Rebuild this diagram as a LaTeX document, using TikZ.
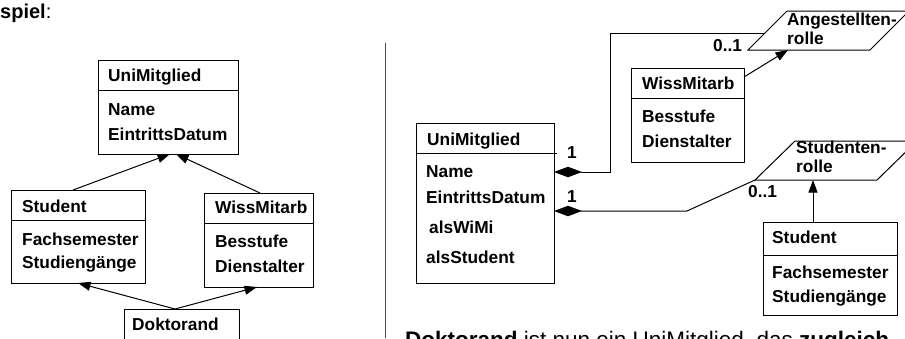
\documentclass[tikz,border=0pt]{standalone}
\usepackage{fontspec}
\setmainfont{Liberation Sans}
\usetikzlibrary{arrows.meta,calc}
\begin{document}
\begin{tikzpicture}[x=1pt,y=-1pt,
  box/.style={draw, line width=1pt, anchor=north west, inner sep=0pt, outer sep=0pt},
  lbl/.style={anchor=base west, inner sep=0pt, font=\fontsize{17.3}{20}\selectfont\bfseries},
  conn/.style={line width=1pt},
  gen/.style={conn, -{Triangle[length=12.5pt,width=9pt]}},
  comp/.style={conn, {Diamond[length=28pt,width=10.5pt]}-}
]
\useasboundingbox (0,0) rectangle (905,338);
\clip (0,0) rectangle (905,338);
\fill[white] (0,0) rectangle (905,338);

% heading
\node[anchor=base west, inner sep=0pt, font=\fontsize{20}{22}\selectfont] (head) at (0,18) {\textbf{spiel}:};

% ---------- left diagram ----------
\node[box, minimum width=140pt, minimum height=94pt] (uniL) at (98,60) {};
\draw[conn] (98,90) -- (239,90);
\node[lbl] (uniLt) at (108,81) {UniMitglied};
\node[lbl] (uniLa) at (108,115) {Name};
\node[lbl] (uniLb) at (108,140) {EintrittsDatum};

\node[box, minimum width=134pt, minimum height=93pt] (stuL) at (11,190) {};
\draw[conn] (11,220) -- (145,220);
\node[lbl] (stuLt) at (22,212) {Student};
\node[lbl] (stuLa) at (22,245) {Fachsemester};
\node[lbl] (stuLb) at (22,268) {Studiengänge};

\node[box, minimum width=109pt, minimum height=94pt] (wissL) at (204,193) {};
\draw[conn] (204,223) -- (313,223);
\node[lbl] (wissLt) at (215,213) {WissMitarb};
\node[lbl] (wissLa) at (215,247) {Besstufe};
\node[lbl] (wissLb) at (215,272) {Dienstalter};

\node[box, minimum width=115pt, minimum height=50pt] (dok) at (124,309) {};
\node[lbl] (dokt) at (132,330) {Doktorand};

\draw[gen] ($(stuL.north west)+(62,0)$) -- ($(uniL.south west)+(72,0)$);
\draw[gen] ($(wissL.north west)+(56,0)$) -- ($(uniL.south west)+(78,0)$);
\draw[gen] ($(dok.north west)+(51,0)$) -- ($(stuL.south west)+(67,0)$);
\draw[gen] ($(dok.north west)+(51,0)$) -- ($(wissL.south west)+(53,0)$);

% divider
\coordinate (divT) at (385,43);
\coordinate (divB) at (385,338);
\draw[black!70, line width=1pt] (divT) -- (divB);

% ---------- right diagram ----------
\node[box, minimum width=138pt, minimum height=160pt] (uniR) at (416,123) {};
\draw[conn] (416,153) -- (557,153);
\node[lbl] (uniRt) at (427,145) {UniMitglied};
\node[lbl] (uniRa) at (426,177) {Name};
\node[lbl] (uniRb) at (426,203) {EintrittsDatum};
\node[lbl] (uniRc) at (429,233) {alsWiMi};
\node[lbl] (uniRd) at (426,263) {alsStudent};

\node[box, minimum width=113pt, minimum height=94pt] (wissR) at (631,68) {};
\draw[conn] (631,98) -- (744,98);
\node[lbl] (wissRt) at (642,89) {WissMitarb};
\node[lbl] (wissRa) at (642,122) {Besstufe};
\node[lbl] (wissRb) at (642,147) {Dienstalter};

\node[box, minimum width=134pt, minimum height=93pt] (stuR) at (763,222) {};
\draw[conn] (763,255) -- (897,255);
\node[lbl] (stuRt) at (772,243) {Student};
\node[lbl] (stuRa) at (772,278) {Fachsemester};
\node[lbl] (stuRb) at (772,302) {Studiengänge};

% role parallelograms
\coordinate (angBL) at (748,50);
\coordinate (angTL) at (787,11);
\coordinate (angTR) at (909,11);
\coordinate (angBR) at (870,50);
\draw[conn] (angBL) -- (angTL) -- (angTR) -- (angBR) -- cycle;
\coordinate (angL) at (765,33);
\coordinate (angB) at (788,50);
\node[lbl] (angt1) at (787,25) {Angestellten-};
\node[lbl] (angt2) at (787,44) {rolle};

\coordinate (srBL) at (755,180);
\coordinate (srTL) at (795,141);
\coordinate (srTR) at (917,141);
\coordinate (srBR) at (877,180);
\draw[conn] (srBL) -- (srTL) -- (srTR) -- (srBR) -- cycle;
\coordinate (srB) at (813,180);
\node[lbl] (srt1) at (796,153) {Studenten-};
\node[lbl] (srt2) at (796,172) {rolle};

% composition connectors
\draw[comp] ($(uniR.north east)+(0,49)$) -- ++(56,0) |- (angL);
\draw[comp] ($(uniR.north east)+(0,88)$) -- (687,211) -- (srBL);
\node[lbl] (m1) at (567,158) {1};
\node[lbl] (m2) at (567,202) {1};
\node[lbl] (m3) at (713,51) {0..1};
\node[lbl] (m4) at (748,197) {0..1};

% generalisation to roles
\draw[gen] ($(wissR.north east)+(0,9)$) -- (angB);
\draw[gen] ($(stuR.north west)+(50,0)$) -- (srB);

% bottom text (cut off, as in the reference)
\node[anchor=base west, inner sep=0pt, font=\fontsize{22.5}{26}\selectfont] (txt) at (405,347)
  {\textbf{Doktorand} ist nun ein UniMitglied, das \textbf{zugleich}};
\end{tikzpicture}
\end{document}
